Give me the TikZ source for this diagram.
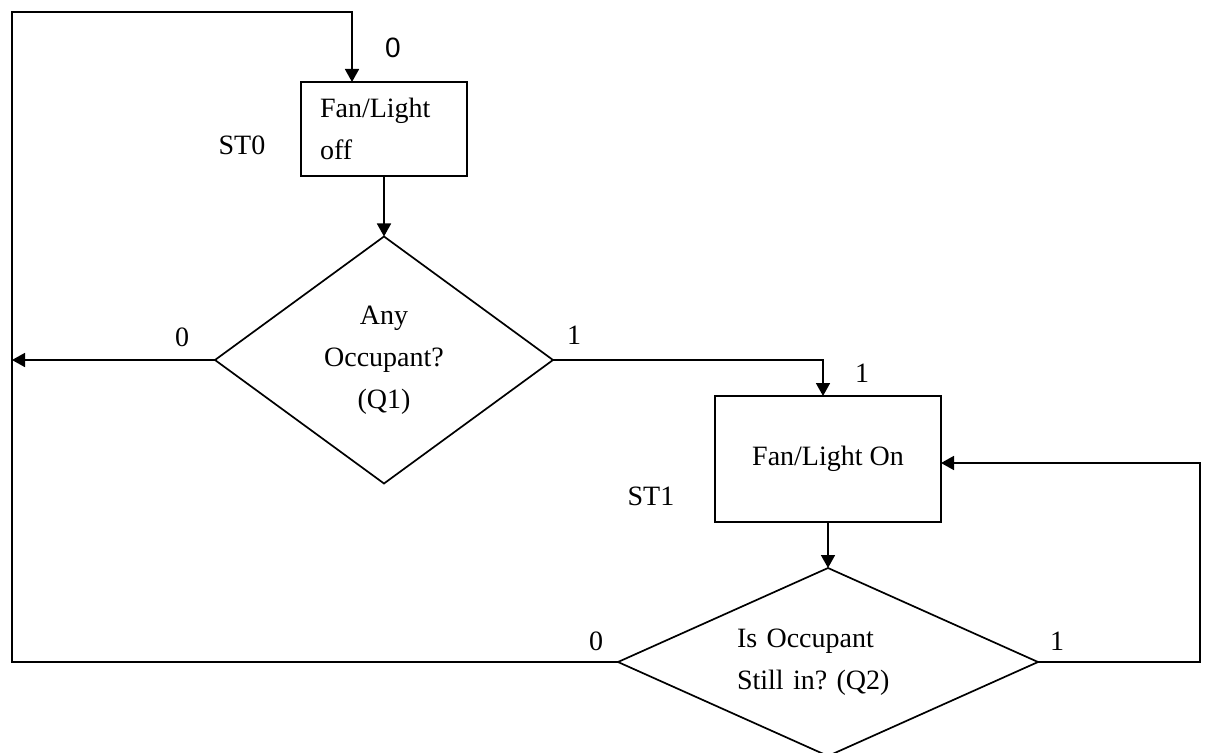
\documentclass[tikz,border=0pt]{standalone}
\usepackage{fontspec}
\setmainfont{Liberation Serif}
\newfontfamily\labelsans{Liberation Sans}
\usepackage{tikz}
\usetikzlibrary{arrows.meta, shapes.geometric}
\frenchspacing

\begin{document}
\begin{tikzpicture}[x=0.5pt, y=-0.5pt, line width=0.85pt,
  font=\fontsize{14}{21}\selectfont,
  flow/.style={-{Triangle[length=6.5pt, width=7pt]}},
  statebox/.style={draw, rectangle, inner sep=0pt, outer sep=0pt},
  decision/.style={draw, diamond, inner sep=0pt, outer sep=0pt, align=center},
  tag/.style={inner sep=0pt}]

\useasboundingbox (0,0) rectangle (1213,753);

% States
\node[statebox, minimum width=83pt, minimum height=47pt, text width=64pt,
  align=left, inner xsep=9.5pt] (st0) at (384,129) {Fan/Light\\off};
\node[statebox, minimum width=113pt, minimum height=63pt] (st1) at (828,459) {Fan/Light On};

% Decisions
\node[decision, aspect=1.37, minimum width=169pt, minimum height=123.5pt] (q1) at (384,360)
  {Any\\Occupant?\\(Q1)};
\node[decision, aspect=2.23, minimum width=210pt, minimum height=94pt, text width=91pt,
  align=left] (q2) at (828,662) {Is Occupant\\Still in? (Q2)};

% Labels
\node[tag, font={\fontsize{14}{21}\selectfont\labelsans}] (in0) at (393,48) {0};
\node[tag] (st0name) at (242,145) {ST0};
\node[tag] (q1no) at (182,337) {0};
\node[tag] (q1yes) at (574,335) {1};
\node[tag] (in1) at (862,373) {1};
\node[tag] (st1name) at (651,496) {ST1};
\node[tag] (q2no) at (596,641) {0};
\node[tag] (q2yes) at (1057,641) {1};

% Loop corners
\coordinate (leftT) at (12,12);
\coordinate (leftB) at (12,662);
\coordinate (topIn) at (352,12);
\coordinate (rightB) at (1200,662);

% Connectors
\draw[flow] (q2.west) -- (leftB) -- (leftT) -- (topIn) -- (topIn |- st0.north);
\draw[flow] (st0.south) -- (q1.north);
\draw[flow] (q1.west) -- (q1.west -| leftB);
\draw[flow] (q1.east) -| ([xshift=-2.5pt]st1.north);
\draw[flow] (st1.south) -- (q2.north);
\draw[flow] (q2.east) -- (rightB) |- ([yshift=-2pt]st1.east);

\end{tikzpicture}
\end{document}
